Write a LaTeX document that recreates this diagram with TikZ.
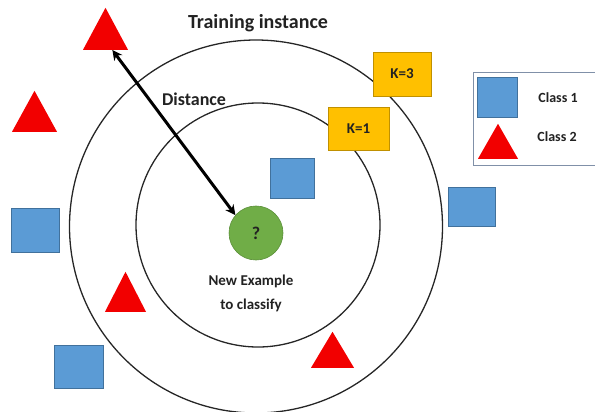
\documentclass[tikz,border=0pt]{standalone}
\usepackage{fontspec}
\setmainfont{Carlito}
\usetikzlibrary{shapes.geometric,arrows.meta,calc}

\definecolor{sqfill}{HTML}{5B9BD5}
\definecolor{sqline}{HTML}{41719C}
\definecolor{trired}{HTML}{F20000}
\definecolor{kfill}{HTML}{FFC000}
\definecolor{kline}{HTML}{C09000}
\definecolor{gfill}{HTML}{70AD47}
\definecolor{gline}{HTML}{5A8F38}
\definecolor{legline}{HTML}{8090A8}
\definecolor{txt}{HTML}{222222}

\tikzset{
  sq/.style={rectangle, fill=sqfill, draw=sqline, line width=0.6pt, inner sep=0pt},
  tri/.style={isosceles triangle, isosceles triangle stretches, shape border rotate=90,
    fill=trired, draw=none, inner sep=0pt, anchor=lower side},
  kbox/.style={rectangle, fill=kfill, draw=kline, line width=0.6pt, inner sep=0pt,
    font=\bfseries\fontsize{15}{15}\selectfont, text=txt},
  ring/.style={draw=black!85, line width=1.3pt},
  lbl/.style={font=\bfseries\fontsize{#1}{#1}\selectfont, text=txt, inner sep=0pt},
}

\begin{document}
\begin{tikzpicture}[x=1pt, y=-1pt]
  \useasboundingbox (0,0) rectangle (595,412);
  \clip (0,0) rectangle (595,412);

  % neighbourhood rings around the query point
  \draw[ring] (256,226.5) circle[radius=186.5];
  \draw[ring] (258,225) circle[radius=122];

  % title
  \node[lbl=20] (title) at (258,23) {Training instance};

  % class 2 samples
  \node[tri, minimum width=45pt, minimum height=42pt] (t1) at (105.5,50) {};
  \node[tri, minimum width=45pt, minimum height=41pt] (t2) at (34.5,132) {};
  \node[tri, minimum width=41pt, minimum height=40pt] (t3) at (125.5,312) {};
  \node[tri, minimum width=43pt, minimum height=36pt] (t4) at (332.5,368) {};

  % class 1 samples
  \node[sq, minimum width=44pt, minimum height=40pt] (s1) at (292,178) {};
  \node[sq, minimum width=47pt, minimum height=39pt] (s2) at (471.5,206.5) {};
  \node[sq, minimum width=48pt, minimum height=44pt] (s3) at (35,230) {};
  \node[sq, minimum width=49pt, minimum height=43pt] (s4) at (78.5,366.5) {};

  % query point
  \node[circle, fill=gfill, draw=gline, line width=0.6pt, minimum size=54pt, inner sep=0pt,
        font=\bfseries\fontsize{18}{18}\selectfont, text=txt] (g) at (256,233) {?};
  \node[lbl=15, align=center] (newex) at (251,293)
       {New Example\\[9pt]to classify};

  % distance to the query
  \draw[line width=3pt, black, {Stealth[length=10pt,width=10pt]}-{Stealth[length=10pt,width=10pt]}]
    ($(t1.lower side)!0.3!(t1.right corner)$) -- (g.139);
  \node[lbl=18] (dist) at (194,99) {Distance};

  % neighbourhood size labels
  \node[kbox, minimum width=58pt, minimum height=44pt] (k3) at (402,74) {K=3};
  \node[kbox, minimum width=61pt, minimum height=43pt] (k1) at (358.5,128.5) {K=1};

  % legend
  \node[draw=legline, line width=1.4pt, fill=white, minimum width=130pt, minimum height=93pt,
        anchor=north west, inner sep=0pt] (leg) at (473,72) {};
  \node[sq, minimum width=40pt, minimum height=40pt] (lsq) at (497,97) {};
  \node[tri, minimum width=40pt, minimum height=35pt] (ltri) at (498,159) {};
  \node[lbl=14] (c1) at (558,98) {Class 1};
  \node[lbl=14] (c2) at (557,137) {Class 2};
\end{tikzpicture}
\end{document}
